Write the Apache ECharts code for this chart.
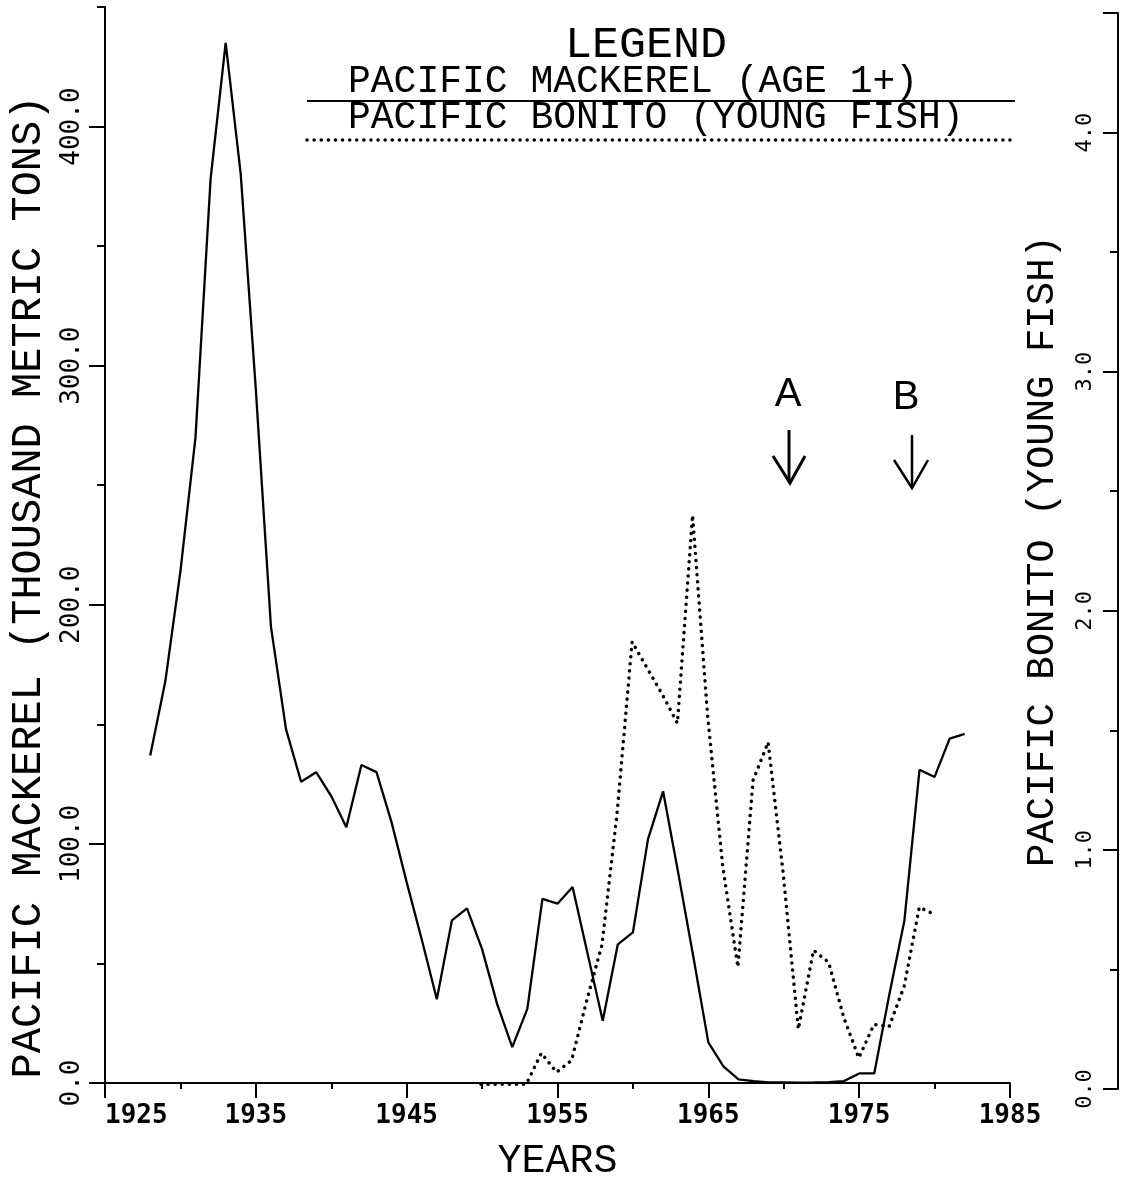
<!DOCTYPE html>
<html><head><meta charset="utf-8">
<script src="https://cdn.jsdelivr.net/npm/echarts@6/dist/echarts.min.js"></script>
<style>html,body{margin:0;padding:0;background:#fff}#c{width:1121px;height:1186px}</style>
</head><body><div id="c"></div>
<script>
// ---- data ----
const mackerelYears = [1928,1929,1930,1931,1932,1933,1934,1935,1936,1937,1938,1939,1940,1941,1942,1943,1944,1945,1946,1947,1948,1949,1950,1951,1952,1953,1954,1955,1956,1957,1958,1959,1960,1961,1962,1963,1964,1965,1966,1967,1968,1969,1970,1971,1972,1973,1974,1975,1976,1977,1978,1979,1980,1981,1982];
const mackerelValues = [137,168,214,270,378,435,380,290,191,148,126,130,120,107,133,130,109,84,60,35,68,73,56,33,15,31,77,75,82,54,26,58,63,102,122,88,53,17,7,1.5,0.8,0.3,0.2,0.1,0.2,0.4,0.8,4,4,37,68,131,128,144,146];
const bonitoYears = [1950,1951,1952,1953,1954,1955,1956,1957,1958,1959,1960,1961,1962,1963,1964,1965,1966,1967,1968,1969,1970,1971,1972,1973,1974,1975,1976,1977,1978,1979,1980];
const bonitoValues = [0.02,0.02,0.02,0.02,0.15,0.07,0.12,0.37,0.6,1.15,1.87,1.76,1.65,1.53,2.40,1.56,0.93,0.51,1.29,1.45,0.90,0.25,0.58,0.53,0.30,0.13,0.27,0.26,0.43,0.76,0.73];

const xMajorTicks = [1925,1935,1945,1955,1965,1975,1985];
const xMinorTicks = [1930,1940,1950,1960,1970,1980];
const leftMajorTicks = [0,100,200,300,400];
const leftMinorTicks = [50,150,250,350,450];
const rightMajorTicks = [0,1,2,3,4];
const rightMinorTicks = [0.5,1.5,2.5,3.5];
const rightTopTick = [4.5];

const xTitle = 'YEARS';
const leftTitle = 'PACIFIC MACKEREL (THOUSAND METRIC TONS)';
const rightTitle = 'PACIFIC BONITO (YOUNG FISH)';
const legendTitle = 'LEGEND';
const seriesNames = ['PACIFIC MACKEREL (AGE 1+)', 'PACIFIC BONITO (YOUNG FISH)'];
const annotations = ['A', 'B'];

// ---- chart ----
const BLACK = '#000';
const plotFont = '"Liberation Mono", "DejaVu Sans Mono", monospace';
const tickFont = '"DejaVu Sans Mono", monospace';
const lineSt = {color: BLACK, width: 2};
const DOTS = [0.1, 7];

const chart = echarts.init(document.getElementById('c'), null, {renderer: 'canvas'});

const option = {
  animation: false,
  backgroundColor: '#fff',
  grid: [
    {left: 103, right: 111, top: 7, bottom: 101},
    {left: 103, right: 111, top: 13, bottom: 97}
  ],
  xAxis: [
    {
      type: 'value', gridIndex: 0, position: 'bottom', min: 1925, max: 1985, interval: 5,
      axisLine: {show: true, onZero: false, lineStyle: lineSt},
      axisTick: {show: true, customValues: xMajorTicks, length: 15, lineStyle: lineSt},
      axisLabel: {show: true, customValues: xMajorTicks, margin: 20, color: BLACK,
        fontFamily: tickFont, fontSize: 26, fontWeight: 'bold', alignMinLabel: 'left', formatter: v => String(v)},
      splitLine: {show: false},
      name: xTitle, nameLocation: 'middle', nameGap: 58,
      nameTextStyle: {fontFamily: plotFont, fontSize: 40, color: BLACK}
    },
    {
      type: 'value', gridIndex: 0, position: 'bottom', min: 1925, max: 1985, interval: 5,
      axisLine: {show: false},
      axisTick: {show: true, customValues: xMinorTicks, length: 6, lineStyle: lineSt},
      axisLabel: {show: false}, splitLine: {show: false}
    },
    {
      type: 'value', gridIndex: 1, position: 'bottom', min: 1925, max: 1985, show: false,
      splitLine: {show: false}
    }
  ],
  yAxis: [
    {
      type: 'value', gridIndex: 0, position: 'left', min: 0, max: 450, interval: 50,
      axisLine: {show: true, onZero: false, lineStyle: lineSt},
      axisTick: {show: true, customValues: leftMajorTicks, length: 16, lineStyle: lineSt},
      axisLabel: {show: true, customValues: leftMajorTicks, rotate: 90, margin: 20, color: BLACK,
        fontFamily: tickFont, fontSize: 26, formatter: v => Number(v).toFixed(1)},
      splitLine: {show: false},
      name: leftTitle, nameLocation: 'middle', nameRotate: 90, nameGap: 55,
      nameTextStyle: {fontFamily: plotFont, fontSize: 42, color: BLACK, padding: [0, 84, 0, 0]}
    },
    {
      type: 'value', gridIndex: 0, position: 'left', min: 0, max: 450, interval: 50,
      axisLine: {show: false},
      axisTick: {show: true, customValues: leftMinorTicks, length: 8, lineStyle: lineSt},
      axisLabel: {show: false}, splitLine: {show: false}
    },
    {
      type: 'value', gridIndex: 1, position: 'right', offset: 108, min: 0, max: 4.5, interval: 0.5,
      axisLine: {show: true, onZero: false, lineStyle: lineSt},
      axisTick: {show: true, inside: true, customValues: rightMajorTicks.concat(rightTopTick), length: 15, lineStyle: lineSt},
      axisLabel: {show: true, inside: true, customValues: rightMajorTicks, rotate: 90, margin: 22, color: BLACK,
        fontFamily: tickFont, fontSize: 22, formatter: v => Number(v).toFixed(1)},
      splitLine: {show: false},
      name: rightTitle, nameLocation: 'middle', nameRotate: 90, nameGap: -95,
      nameTextStyle: {fontFamily: plotFont, fontSize: 39, color: BLACK}
    },
    {
      type: 'value', gridIndex: 1, position: 'right', offset: 108, min: 0, max: 4.5, interval: 0.5,
      axisLine: {show: false},
      axisTick: {show: true, inside: true, customValues: rightMinorTicks, length: 8, lineStyle: lineSt},
      axisLabel: {show: false}, splitLine: {show: false}
    }
  ],
  series: [
    {
      name: seriesNames[0], type: 'line', xAxisIndex: 0, yAxisIndex: 0,
      data: mackerelYears.map((y, i) => [y, mackerelValues[i]]),
      symbol: 'none', lineStyle: {color: BLACK, width: 2.3}, z: 3
    },
    {
      name: seriesNames[1], type: 'line', xAxisIndex: 2, yAxisIndex: 2,
      data: bonitoYears.map((y, i) => [y, bonitoValues[i]]),
      symbol: 'none', lineStyle: {color: BLACK, width: 3.5, type: DOTS, cap: 'round'}, z: 3
    }
  ],
  graphic: [
    {type: 'text', x: 646, y: 45, style: {text: legendTitle, fontFamily: plotFont, fontSize: 45, fill: BLACK, align: 'center', verticalAlign: 'middle'}},
    {type: 'text', x: 348, y: 82, style: {text: seriesNames[0], fontFamily: plotFont, fontSize: 38, fill: BLACK, align: 'left', verticalAlign: 'middle'}},
    {type: 'text', x: 348, y: 118, style: {text: seriesNames[1], fontFamily: plotFont, fontSize: 38, fill: BLACK, align: 'left', verticalAlign: 'middle'}},
    {type: 'line', shape: {x1: 307, y1: 101, x2: 1015, y2: 101}, style: {stroke: BLACK, lineWidth: 2}},
    {type: 'line', shape: {x1: 307, y1: 140, x2: 1015, y2: 140}, style: {stroke: BLACK, lineWidth: 3.5, lineDash: DOTS, lineCap: 'round'}},
    {type: 'text', x: 788, y: 395, style: {text: annotations[0], fontFamily: '"Liberation Sans", sans-serif', fontSize: 40, fill: BLACK, align: 'center', verticalAlign: 'middle'}},
    {type: 'text', x: 906, y: 398, style: {text: annotations[1], fontFamily: '"Liberation Sans", sans-serif', fontSize: 40, fill: BLACK, align: 'center', verticalAlign: 'middle'}},
    {type: 'line', shape: {x1: 789, y1: 430, x2: 789, y2: 482}, style: {stroke: BLACK, lineWidth: 3}},
    {type: 'polyline', shape: {points: [[773, 456], [790, 483], [805, 456]]}, style: {stroke: BLACK, lineWidth: 3, fill: null}},
    {type: 'line', shape: {x1: 912, y1: 435, x2: 912, y2: 488}, style: {stroke: BLACK, lineWidth: 2.5}},
    {type: 'polyline', shape: {points: [[894, 460], [912, 488], [928, 460]]}, style: {stroke: BLACK, lineWidth: 2.5, fill: null}}
  ]
};
chart.setOption(option);
</script>
</body></html>
